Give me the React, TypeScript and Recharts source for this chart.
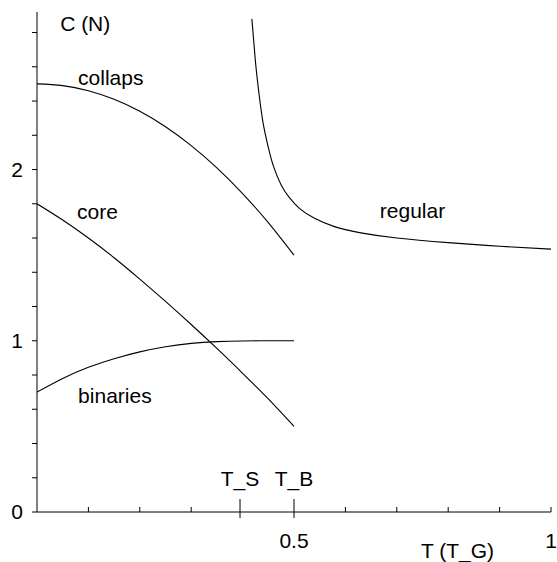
import React from "react";
import { LineChart, Line, XAxis, YAxis, ReferenceDot } from "recharts";

const FONT = "'Liberation Sans', Arial, Helvetica, sans-serif";
const FS = 21;

const collapsX = [0, 0.05, 0.1, 0.15, 0.2, 0.25, 0.3, 0.35, 0.4, 0.45, 0.5];
const collapsY = [2.5, 2.49, 2.46, 2.41, 2.34, 2.25, 2.14, 2.01, 1.86, 1.69, 1.5];

const coreX = [0, 0.05, 0.1, 0.15, 0.2, 0.25, 0.3, 0.35, 0.4, 0.45, 0.5];
const coreY = [1.8, 1.705, 1.6, 1.485, 1.36, 1.23, 1.095, 0.955, 0.81, 0.66, 0.5];

const binX = [0, 0.05, 0.1, 0.15, 0.2, 0.25, 0.3, 0.35, 0.4, 0.45, 0.5];
const binY = [0.7, 0.78, 0.845, 0.895, 0.935, 0.965, 0.985, 0.995, 0.999, 1.0, 1.0];

const regX = [0.418, 0.425, 0.432, 0.44, 0.45, 0.46, 0.475, 0.49, 0.51, 0.54, 0.58, 0.63, 0.7, 0.8, 0.9, 1.0];
const regY = [2.88, 2.63, 2.44, 2.27, 2.13, 2.02, 1.91, 1.84, 1.775, 1.715, 1.665, 1.63, 1.6, 1.573, 1.552, 1.535];

const yTicks = [0, 0.2, 0.4, 0.6, 0.8, 1, 1.2, 1.4, 1.6, 1.8, 2, 2.2, 2.4, 2.6, 2.8];
const xTicks = [0.1, 0.2, 0.3, 0.395, 0.5, 0.6, 0.7, 0.8, 0.9, 1];
const xLongTicks = [0.395, 0.5];
const xTickLabels: Record<string, string> = { "0.5": "0.5", "1": "1" };

const annotations = [
  { x: 0.045, y: 2.81, text: "C (N)", anchor: "start" },
  { x: 0.08, y: 2.494, text: "collaps", anchor: "start" },
  { x: 0.078, y: 1.711, text: "core", anchor: "start" },
  { x: 0.08, y: 0.637, text: "binaries", anchor: "start" },
  { x: 0.667, y: 1.717, text: "regular", anchor: "start" },
  { x: 0.395, y: 0.152, text: "T_S", anchor: "middle" },
  { x: 0.5, y: 0.152, text: "T_B", anchor: "middle" },
  { x: 0.747, y: -0.269, text: "T (T_G)", anchor: "start" },
];

const zip = (xs: number[], ys: number[]) => xs.map((x, i) => ({ x, y: ys[i] }));

const XTick = (props: any) => {
  const { x, y, payload } = props;
  const v = payload.value;
  const long = xLongTicks.includes(v);
  const label = xTickLabels[String(v)];
  return (
    <g>
      <line x1={x} x2={x} y1={long ? y - 13 : y - 5} y2={long ? y + 6 : y} stroke="#000" strokeWidth={1} />
      {label && (
        <text x={x} y={y + 36} textAnchor="middle" fontSize={FS} fontFamily={FONT} fill="#000">
          {label}
        </text>
      )}
    </g>
  );
};

export default function App() {
  return (
    <div style={{ position: "absolute", left: 0, top: 0 }}>
      <LineChart width={557} height={562} margin={{ top: 12, right: 6, left: 0, bottom: 0 }}>
        <XAxis
          type="number"
          dataKey="x"
          domain={[0, 1]}
          ticks={xTicks}
          interval={0}
          height={50}
          tickSize={0}
          tickMargin={0}
          tickLine={false}
          axisLine={{ stroke: "#000", strokeWidth: 1 }}
          tick={<XTick />}
          allowDataOverflow
        />
        <YAxis
          type="number"
          domain={[0, 2.92]}
          ticks={yTicks}
          interval={0}
          width={37}
          tickSize={5}
          tickMargin={9}
          tickLine={{ stroke: "#000", strokeWidth: 1 }}
          axisLine={{ stroke: "#000", strokeWidth: 1 }}
          tick={{ fontSize: FS, fontFamily: FONT, fill: "#000" }}
          tickFormatter={(v: number) => (Number.isInteger(v) ? String(v) : "")}
          allowDataOverflow
        />
        <Line data={zip(collapsX, collapsY)} dataKey="y" type="natural" stroke="#000" strokeWidth={1.1} dot={false} isAnimationActive={false} />
        <Line data={zip(coreX, coreY)} dataKey="y" type="natural" stroke="#000" strokeWidth={1.1} dot={false} isAnimationActive={false} />
        <Line data={zip(binX, binY)} dataKey="y" type="natural" stroke="#000" strokeWidth={1.1} dot={false} isAnimationActive={false} />
        <Line data={zip(regX, regY)} dataKey="y" type="natural" stroke="#000" strokeWidth={1.1} dot={false} isAnimationActive={false} />
        {annotations.map((a) => (
          <ReferenceDot
            key={a.text}
            x={a.x}
            y={a.y}
            r={0}
            ifOverflow="visible"
            shape={(p: any) => (
              <text x={p.cx} y={p.cy} textAnchor={a.anchor as any} fontSize={FS} fontFamily={FONT} fill="#000">
                {a.text}
              </text>
            )}
          />
        ))}
      </LineChart>
    </div>
  );
}
